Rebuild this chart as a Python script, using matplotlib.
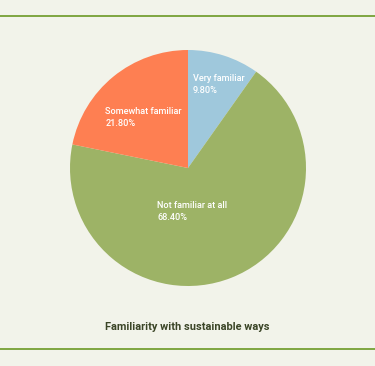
import matplotlib
matplotlib.use("Agg")
import matplotlib.pyplot as plt
from matplotlib.lines import Line2D

labels = ["Very familiar", "Not familiar at all", "Somewhat familiar"]
shares = [9.8, 68.4, 21.8]
colors = ["#9fc8dc", "#9db366", "#fe7f52"]
# label anchor spots, in units of the pie radius
label_pos = [(0.04, 0.71), (-0.26, -0.37), (-0.70, 0.43)]
title = "Familiarity with sustainable ways"

bg = "#f2f3ea"
plt.rcParams["font.family"] = ["Roboto", "DejaVu Sans"]

fig = plt.figure(figsize=(3.75, 3.66), dpi=100, facecolor=bg)
W, H = 375, 366
cx, cy, r = 188, 168, 118
ax = fig.add_axes([(cx - r) / W, (H - cy - r) / H, 2 * r / W, 2 * r / H])
ax.set_facecolor(bg)

ax.pie(shares, colors=colors, startangle=90, counterclock=False, radius=1,
       wedgeprops=dict(linewidth=0))
ax.set_xlim(-1, 1)
ax.set_ylim(-1, 1)
ax.set_aspect("equal")
ax.axis("off")

for lab, val, (x, y) in zip(labels, shares, label_pos):
    ax.text(x, y, f"{lab}\n{val:.2f}%", color="white", fontsize=6.6,
            fontweight="medium", ha="left", va="center", linespacing=1.4)

fig.text(0.5, 1 - 327 / H, title, ha="center", va="center", fontsize=7.9,
         fontweight="bold", color="#3b4527")

for yy in (16, 349):
    fig.add_artist(Line2D([0, 1], [1 - yy / H, 1 - yy / H], transform=fig.transFigure,
                          color="#7ea541", lw=1.4))

fig.savefig("out.png", dpi=100, facecolor=bg)
